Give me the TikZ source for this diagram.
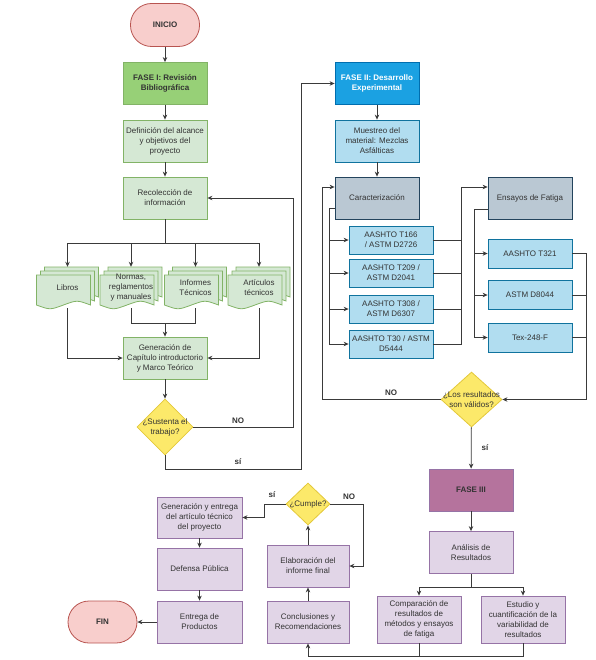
\documentclass[tikz,border=0pt]{standalone}
\usepackage{fontspec}
\setmainfont{Liberation Sans}
\usetikzlibrary{arrows.meta,calc,shapes.geometric,backgrounds}

\definecolor{txtgray}{HTML}{333333}
\definecolor{linegray}{HTML}{3A3A3A}
\definecolor{redfill}{HTML}{F8CECC}
\definecolor{redline}{HTML}{B85450}
\definecolor{faseonefill}{HTML}{97D077}
\definecolor{greenfill}{HTML}{D5E8D4}
\definecolor{greenline}{HTML}{82B366}
\definecolor{fasetwofill}{HTML}{1BA1E2}
\definecolor{fasetwoline}{HTML}{006EAF}
\definecolor{bluefill}{HTML}{B1DDF0}
\definecolor{blueline}{HTML}{10739E}
\definecolor{grayfill}{HTML}{BAC8D3}
\definecolor{grayline}{HTML}{23445D}
\definecolor{yellowfill}{HTML}{FCE96A}
\definecolor{yellowline}{HTML}{E3C83A}
\definecolor{purplefill}{HTML}{E1D5E7}
\definecolor{purpleline}{HTML}{9673A6}
\definecolor{fasethreefill}{HTML}{B5739D}

\begin{document}
\begin{tikzpicture}[x=1pt,y=-1pt,>={Stealth[length=5pt,width=4.5pt]},
    every node/.style={font=\fontsize{8}{10}\selectfont,text=txtgray,align=center,inner sep=1pt},
    box/.style={draw,line width=0.8pt,minimum width=84,minimum height=42},
    terminal/.style={box,draw=redline,fill=redfill,minimum width=69,minimum height=43,rounded corners=21pt,font=\bfseries\fontsize{8}{10}\selectfont},
    faseone/.style={box,draw=greenline,fill=faseonefill,font=\bfseries\fontsize{8}{10}\selectfont},
    greenbox/.style={box,draw=greenline,fill=greenfill},
    fasetwo/.style={box,draw=fasetwoline,fill=fasetwofill,text=white,font=\bfseries\fontsize{8}{10}\selectfont},
    bluebox/.style={box,draw=blueline,fill=bluefill},
    graybox/.style={box,draw=grayline,fill=grayfill},
    testbox/.style={bluebox,minimum height=28},
    fasethree/.style={box,draw=purpleline,fill=fasethreefill,font=\bfseries\fontsize{8}{10}\selectfont},
    purplebox/.style={box,draw=purpleline,fill=purplefill},
    decision/.style={diamond,draw=yellowline,fill=yellowfill,line width=0.8pt,inner sep=0pt},
    docgroup/.style={minimum width=62,minimum height=41,inner sep=0pt},
    docpage/.style={draw=greenline,fill=greenfill,line width=0.8pt},
    link/.style={draw=linegray,line width=0.8pt},
    flag/.style={font=\bfseries\fontsize{8}{10}\selectfont}]
\useasboundingbox (0,0) rectangle (595,660);

% fase I
\node[terminal] (inicio) at (165,25) {INICIO};
\node[faseone] (faseI) at (165,83.5) {FASE I: Revisión\\Bibliográfica};
\node[greenbox] (alcance) at (165,141) {Definición del alcance\\y objetivos del\\proyecto};
\node[greenbox] (recoleccion) at (165,198) {Recolección de\\información};
\node[docgroup] (libros) at (67.5,287.5) {Libros};
\node[docgroup] (normas) at (131,287.5) {Normas,\\reglamentos\\y manuales};
\node[docgroup] (informes) at (195.5,287.5) {Informes\\Técnicos};
\node[docgroup] (articulos) at (259,287.5) {Artículos\\técnicos};
\foreach \n in {libros,normas,informes,articulos}{
    \begin{scope}[on background layer,shift={(\n.center)}]
        \foreach \k in {0,4,8}
            \filldraw[docpage] (-23-\k,-20.5+\k) -- ++(54,0) -- ++(0,30) .. controls +(-13.5,-5) .. ++(-27,0) .. controls +(-13.5,5) .. ++(-27,0) -- cycle;
    \end{scope}
}
\node[greenbox] (capitulo) at (165,358) {Generación de\\Capítulo introductorio\\y Marco Teórico};
\node[decision,minimum width=56,minimum height=56,label={[align=center]center:{¿Sustenta el\\trabajo?}}] (sustenta) at (165,427) {};

% fase II
\node[fasetwo] (faseII) at (377,83.5) {FASE II: Desarrollo\\Experimental};
\node[bluebox] (muestreo) at (377,141) {Muestreo del\\material: Mezclas\\Asfálticas};
\node[graybox] (caract) at (377,198) {Caracterización};
\node[testbox] (t166) at (391,240) {AASHTO T166\\/ ASTM D2726};
\node[testbox] (t209) at (391,273) {AASHTO T209 /\\ASTM D2041};
\node[testbox] (t308) at (391,309) {AASHTO T308 /\\ASTM D6307};
\node[testbox] (t30) at (391,344) {AASHTO T30 / ASTM\\D5444};
\node[graybox] (fatiga) at (530,198) {Ensayos de Fatiga};
\node[testbox,minimum height=29] (t321) at (530,253.5) {AASHTO T321};
\node[testbox,minimum height=29] (d8044) at (530,295) {ASTM D8044};
\node[testbox,minimum height=29] (tex) at (530,337.5) {Tex-248-F};
\node[decision,minimum width=61,minimum height=55,label={[align=center]center:{¿Los resultados\\son válidos?}}] (validos) at (471.5,399.5) {};

% fase III
\node[fasethree] (faseIII) at (471,490) {FASE III};
\node[purplebox] (analisis) at (471,552.5) {Análisis de\\Resultados};
\node[purplebox,minimum height=47] (comparacion) at (419,619.5) {Comparación de\\resultados de\\métodos y ensayos\\de fatiga};
\node[purplebox,minimum height=47] (estudio) at (523,619.5) {Estudio y\\cuantificación de la\\variabilidad de\\resultados};
\node[purplebox,minimum width=82] (conclusiones) at (308,622) {Conclusiones y\\Recomendaciones};
\node[purplebox,minimum width=82] (informe) at (308,566) {Elaboración del\\informe final};
\node[decision,minimum width=44,minimum height=42,label={center:¿Cumple?}] (cumple) at (308,504) {};
\node[purplebox,minimum width=85,minimum height=41] (articulo) at (199.5,517.5) {Generación y entrega\\del artículo técnico\\del proyecto};
\node[purplebox,minimum width=85] (defensa) at (199.5,569) {Defensa Pública};
\node[purplebox,minimum width=85] (entrega) at (199.5,622) {Entrega de\\Productos};
\node[terminal,minimum height=42] (fin) at (102.5,622) {FIN};

% bends
\coordinate (split) at (165,243);
\coordinate (docjoin) at (165,323);
\coordinate (nocorner) at (293,427);
\coordinate (sicorner) at (301,469);
\coordinate (cbus) at (329,208);
\coordinate (tbus) at (461,187);
\coordinate (fbus) at (474,209);
\coordinate (vbus) at (586,399.5);
\coordinate (nobus) at (322,399.5);
\coordinate (abus) at (471,587);
\coordinate (bbus) at (308,656);
\coordinate (nocum) at (363,504);
\coordinate (sicum) at (264,504);

% connectors
\draw[link,->] (inicio) -- (faseI);
\draw[link,->] (faseI) -- (alcance);
\draw[link,->] (alcance) -- (recoleccion);
\draw[link] (recoleccion) -- (split);
\foreach \n in {libros,normas,informes,articulos}
    \draw[link,->] (split) -| (\n.north);
\draw[link,->] (libros.south) |- (capitulo.west);
\draw[link] (normas.south) |- (docjoin);
\draw[link] (informes.south) |- (docjoin);
\draw[link,->] (docjoin) -- (capitulo);
\draw[link,->] (articulos.south) |- (capitulo.east);
\draw[link,->] (capitulo) -- (sustenta);
\draw[link,->] (sustenta.east) -- (nocorner) |- (recoleccion.east);
\draw[link,->] (sustenta.south) |- (sicorner) |- (faseII.west);
\draw[link,->] (faseII) -- (muestreo);
\draw[link,->] (muestreo) -- (caract);
\draw[link] ($(caract.west)+(0,10)$) -- (cbus);
\foreach \n in {t166,t209,t308,t30}{
    \draw[link,->] (cbus) |- (\n.west);
    \draw[link] (\n.east) -| (tbus);
}
\draw[link,->] (tbus) -- (tbus -| fatiga.west);
\draw[link] ($(fatiga.west)+(0,11)$) -- (fbus);
\foreach \n in {t321,d8044,tex}{
    \draw[link,->] (fbus) |- (\n.west);
    \draw[link] (\n.east) -| (vbus);
}
\draw[link,->] (vbus) -- (validos.east);
\draw[link,->] (validos.west) -- (nobus) |- ($(caract.west)+(0,-11)$);
\draw[link,->] (validos) -- (faseIII);
\draw[link,->] (faseIII) -- (analisis);
\draw[link] (analisis) -- (abus);
\draw[link,->] (abus) -| (comparacion.north);
\draw[link,->] (abus) -| (estudio.north);
\draw[link] (comparacion.south) -- (comparacion.south |- bbus);
\draw[link,->] (estudio.south) |- (bbus) -- (conclusiones.south);
\draw[link,->] (conclusiones) -- (informe);
\draw[link,->] (informe) -- (cumple);
\draw[link,->] (cumple.east) -- (nocum) |- (informe.east);
\draw[link,->] (cumple.west) -- (sicum) |- (articulo.east);
\draw[link,->] (articulo) -- (defensa);
\draw[link,->] (defensa) -- (entrega);
\draw[link,->] (entrega) -- (fin);

% labels
\node[flag] (nosustenta) at (238,421) {NO};
\node[flag] (sisustenta) at (238,462) {sí};
\node[flag] (novalidos) at (391,393) {NO};
\node[flag] (sivalidos) at (485,448) {sí};
\node[flag] (sicumple) at (272,495) {sí};
\node[flag] (nocumple) at (349,497) {NO};
\end{tikzpicture}
\end{document}
